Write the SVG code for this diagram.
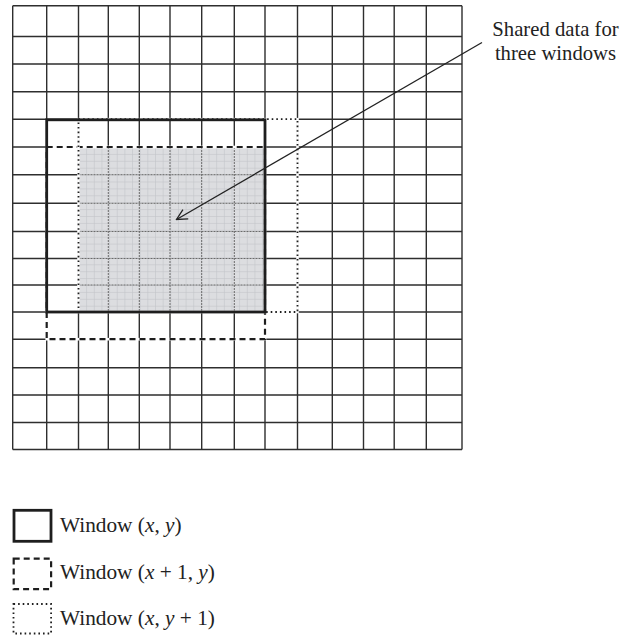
<svg xmlns="http://www.w3.org/2000/svg" width="632" height="636" viewBox="0 0 632 636">
  <style>
    .grid { stroke: #2e2e2e; stroke-width: 1.4; fill: none; }
    .inner { stroke: #6a6a6a; stroke-width: 1; stroke-dasharray: 2 1; fill: none; }
    .wsolid { stroke: #1e1e1e; stroke-width: 2.8; fill: none; }
    .wdash { stroke: #1e1e1e; stroke-width: 2.2; stroke-dasharray: 6 4; fill: none; }
    .wdot { stroke: #1e1e1e; stroke-width: 1.8; stroke-dasharray: 1.6 3; fill: none; }
    .under { stroke: #ffffff; stroke-width: 2.6; fill: none; }
    .label { font-family: "Liberation Serif", "Times New Roman", serif; font-size: 20.7px; fill: #222; }
    .legend { font-family: "Liberation Serif", "Times New Roman", serif; font-size: 21.3px; fill: #222; }
    .conn { stroke: #222; stroke-width: 1.3; fill: none; }
  </style>
  <defs>
    <pattern id="shade" patternUnits="userSpaceOnUse" x="78.5" y="147" width="7.65" height="6.9">
      <rect width="7.65" height="6.9" fill="#dcdde0"/>
      <path d="M0,0.3 H7.65 M0.3,0 V6.9" stroke="#c2c3c7" stroke-width="0.7"/>
    </pattern>
    <marker id="openArrow" markerUnits="userSpaceOnUse" viewBox="0 0 13 13" markerWidth="13" markerHeight="13" refX="12" refY="6.5" orient="auto">
      <path d="M1.5,1.2 L12,6.5 L1.5,11.8" fill="none" stroke="#222" stroke-width="1.3"/>
    </marker>
  </defs>
  <rect width="632" height="636" fill="#ffffff"/>

  <g id="grid">
    <path class="grid" d="M12.7,5.7 H462 M12.7,36.5 H462 M12.7,64 H462 M12.7,91.7 H462 M12.7,119.2 H462 M12.7,147 H462 M12.7,174.7 H462 M12.7,203.3 H462 M12.7,231.5 H462 M12.7,258.5 H462 M12.7,285 H462 M12.7,312 H462 M12.7,339.2 H462 M12.7,367.7 H462 M12.7,395 H462 M12.7,422.5 H462 M12.7,449.5 H462"/>
    <path class="grid" d="M12.7,5.7 V449.5 M46.7,5.7 V449.5 M78.5,5.7 V449.5 M108.3,5.7 V449.5 M139.3,5.7 V449.5 M170,5.7 V449.5 M201.7,5.7 V449.5 M234.3,5.7 V449.5 M265,5.7 V449.5 M297.5,5.7 V449.5 M332.3,5.7 V449.5 M363.5,5.7 V449.5 M394.2,5.7 V449.5 M426.3,5.7 V449.5 M462,5.7 V449.5"/>
  </g>

  <g id="shared-region">
    <rect x="78.5" y="147" width="186.5" height="165" fill="url(#shade)"/>
    <path class="inner" d="M108.3,147 V312 M139.3,147 V312 M170,147 V312 M201.7,147 V312 M234.3,147 V312 M78.5,174.7 H265 M78.5,203.3 H265 M78.5,231.5 H265 M78.5,258.5 H265 M78.5,285 H265 M79,147 V312"/>
  </g>

  <g id="window-x1-y">
    <rect class="under" x="46.7" y="147" width="218.3" height="192.2"/>
    <rect class="wdash" x="46.7" y="147" width="218.3" height="192.2"/>
  </g>
  <g id="window-x-y1">
    <rect class="under" x="78.5" y="119.2" width="219" height="192.8"/>
    <rect class="wdot" x="78.5" y="119.2" width="219" height="192.8"/>
  </g>
  <g id="window-x-y">
    <rect class="wsolid" x="46.7" y="119.8" width="218.3" height="192.2"/>
  </g>

  <g id="label-shared">
    <text class="label" x="555.5" y="35.5" text-anchor="middle">Shared data for</text>
    <text class="label" x="555.5" y="59.5" text-anchor="middle">three windows</text>
  </g>

  <g id="connectors">
    <line class="conn" x1="482" y1="42.5" x2="176.5" y2="219.5" marker-end="url(#openArrow)"/>
  </g>

  <g id="legend">
    <g id="legend-solid">
      <rect class="wsolid" x="14" y="510.3" width="37" height="31"/>
      <text class="legend" x="60" y="531.5">Window (<tspan font-style="italic">x</tspan>, <tspan font-style="italic">y</tspan>)</text>
    </g>
    <g id="legend-dash">
      <rect class="wdash" x="13.7" y="558.6" width="37.4" height="30.6" stroke-dasharray="5.5 4"/>
      <text class="legend" x="60" y="578.5">Window (<tspan font-style="italic">x</tspan> + 1, <tspan font-style="italic">y</tspan>)</text>
    </g>
    <g id="legend-dot">
      <rect class="wdot" x="13.5" y="604" width="37.6" height="29.5" stroke-width="1.5"/>
      <text class="legend" x="60" y="625">Window (<tspan font-style="italic">x</tspan>, <tspan font-style="italic">y</tspan> + 1)</text>
    </g>
  </g>
</svg>
